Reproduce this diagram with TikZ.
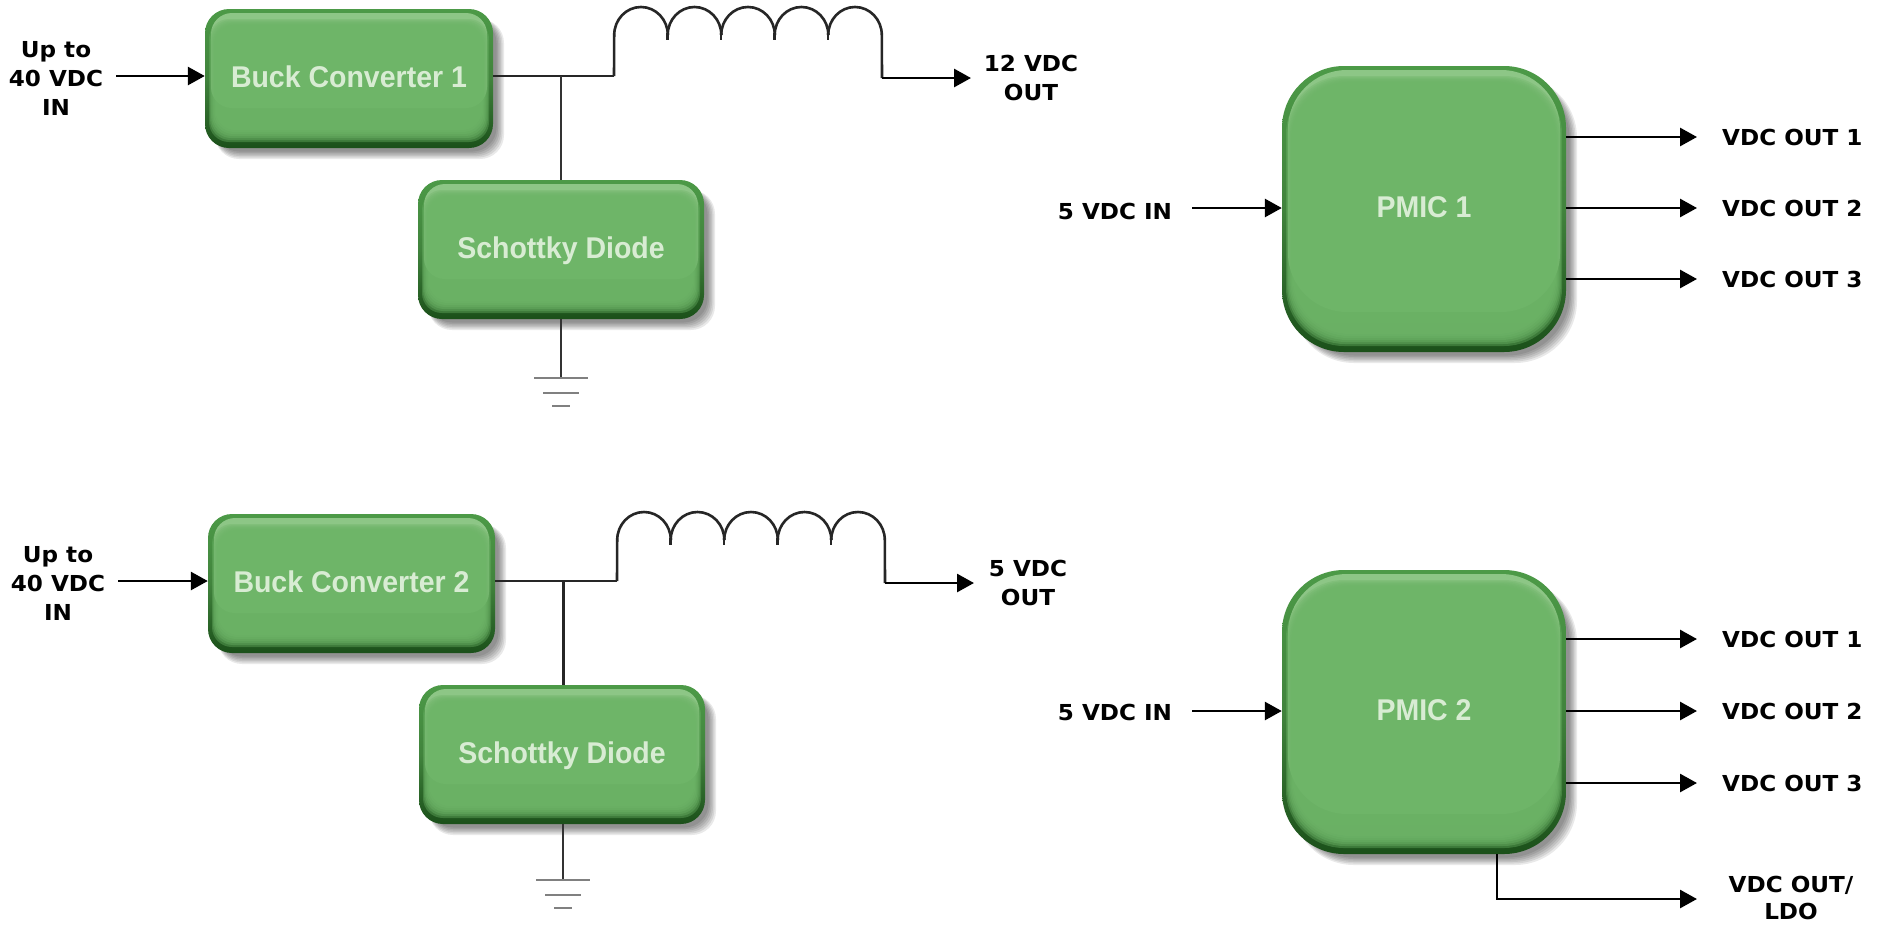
\documentclass[tikz,border=0pt]{standalone}
\usepackage{fontspec}
\setmainfont{Liberation Sans}
\newfontfamily\lblfont{DejaVu Sans}[FakeStretch=1.05]
\newfontfamily\boxfont{Liberation Sans}[FakeStretch=0.95]
\usetikzlibrary{arrows.meta,calc}
\definecolor{gfill}{HTML}{6EB568}
\definecolor{glight}{HTML}{A4D69C}
\definecolor{gmid}{HTML}{4C9A47}
\definecolor{gdark}{HTML}{1B501A}
\definecolor{gtext}{HTML}{D8ECD3}
\tikzset{
  x=1pt,y=-1pt,
  wire/.style={line width=2.6pt,black!85},
  thinwire/.style={line width=2.2pt,black!80},
  arrowwire/.style={line width=2.8pt,black,-{Triangle[length=17pt,width=18pt]}},
  coil/.style={line width=2.6pt,black!85},
  gnd/.style={line width=1.8pt,black!50},
  lbl/.style={font=\lblfont\bfseries\fontsize{22}{29}\selectfont,align=center,inner sep=0pt,text=black},
  boxtxt/.style={font=\boxfont\bfseries\fontsize{30}{34}\selectfont,text=gtext,inner sep=0pt,text height=22pt,text depth=5pt},
}
% #1 name, #2 x0, #3 y0, #4 x1, #5 y1, #6 radius, #7 text
\newcommand{\bevelbox}[7]{%
  \foreach \k in {18,15,12,9,6,3}{%
    \fill[black,opacity=0.085,rounded corners=#6pt] (#2+10,#3+10) rectangle (#4+2+\k/2,#5+2+\k/2);}
  \shade[rounded corners=#6pt,top color=gmid,bottom color=gdark,middle color=gmid!85!black] (#2,#3) rectangle (#4,#5);
  \fill[glight,opacity=0.75,rounded corners=#6pt-3pt] (#2+6,#3+4) rectangle (#4-6,#5-40);
  \foreach \i in {0,1,2,3,4,5,6}{%
    \fill[gfill,opacity=0.38,rounded corners=#6pt-4pt] (#2+4+\i*1.1,#3+10+\i*1.3) rectangle (#4-4-\i*1.2,#5-6-\i*2.0);}
  \node[inner sep=0pt,minimum width=#4-#2,minimum height=#5-#3,boxtxt] (#1) at ({(#2+#4)/2},{(#3+#5)/2}) {#7};
}
\begin{document}
\begin{tikzpicture}
\useasboundingbox (0,0) rectangle (1881,924);
\fill[white] (0,0) rectangle (1881,924);
% boxes
\bevelbox{buckA}{205}{9}{493}{148}{24}{Buck Converter 1}
\bevelbox{diodeA}{418}{180}{704}{319}{24}{Schottky Diode}
\bevelbox{buckB}{208}{514}{495}{653}{24}{Buck Converter 2}
\bevelbox{diodeB}{419}{685}{705}{824}{24}{Schottky Diode}
\bevelbox{pmicA}{1282}{66}{1566}{352}{62}{PMIC 1}
\bevelbox{pmicB}{1282}{570}{1566}{854}{62}{PMIC 2}
% input labels
\node[lbl] (inA) at (56,78) {Up to\\40 VDC\\IN};
\node[lbl] (inB) at (58,583) {Up to\\40 VDC\\IN};
\coordinate (inAs) at (116,76);
\coordinate (inBs) at (118,581);
\draw[arrowwire] (inAs) -- (buckA.west|-inAs);
\draw[arrowwire] (inBs) -- (buckB.west|-inBs);
% top buck
\coordinate (jA) at (561,76);
\coordinate (cA0) at (614,76);
\coordinate (cA1) at (882,78);
\coordinate (gA) at (561,378);
\draw[wire] (buckA.east|-jA) -- (jA) -- (cA0);
\draw[thinwire] (jA) -- (diodeA.north-|jA);
\draw[thinwire] (diodeA.south-|jA) -- (gA);
\draw[gnd] (534,378) -- (588,378) (543,393) -- (579,393) (552,406) -- (570,406);
\foreach \cx in {641,694.5,748,801.5,855}{\draw[coil] (\cx-26.8,35) arc[start angle=180,end angle=0,x radius=26.8,y radius=-28];}
\foreach \sx in {667.6,721.1,774.6,828.1}{\draw[coil] (\sx,33) -- (\sx,40);}
\draw[coil] (cA0) -- (614.2,35);
\draw[coil] (881.8,35) -- (cA1);
\node[lbl] (outA) at (1031,78) {12 VDC\\OUT};
\draw[arrowwire] (cA1) -- (971,78);
% lower buck
\coordinate (jB) at (563,581);
\coordinate (cB0) at (617,581);
\coordinate (cB1) at (885,583);
\coordinate (gB) at (563,880);
\draw[wire] (buckB.east|-jB) -- (jB) -- (cB0);
\draw[line width=3pt,black!85] (jB) -- (diodeB.north-|jB);
\draw[thinwire] (diodeB.south-|jB) -- (gB);
\draw[gnd] (536,880) -- (590,880) (545,895) -- (581,895) (554,908) -- (572,908);
\foreach \cx in {644,697.5,751,804.5,858}{\draw[coil] (\cx-26.8,540) arc[start angle=180,end angle=0,x radius=26.8,y radius=-28];}
\foreach \sx in {670.6,724.1,777.6,831.1}{\draw[coil] (\sx,538) -- (\sx,545);}
\draw[coil] (cB0) -- (617.2,540);
\draw[coil] (884.8,540) -- (cB1);
\node[lbl] (outB) at (1028,583) {5 VDC\\OUT};
\draw[arrowwire] (cB1) -- (974,583);
% PMIC 1
\node[lbl] (pinA) at (1115,211) {5 VDC IN};
\coordinate (pinAs) at (1192,208);
\draw[arrowwire] (pinAs) -- (pmicA.west|-pinAs);
\foreach \n/\y in {1/137,2/208,3/279}{
  \node[lbl,anchor=west] (oA\n) at (1722,\y) {VDC OUT \n};
  \draw[arrowwire] (pmicA.east|-oA\n) -- (1697,\y);
}
% PMIC 2
\node[lbl] (pinB) at (1115,712) {5 VDC IN};
\coordinate (pinBs) at (1192,711);
\draw[arrowwire] (pinBs) -- (pmicB.west|-pinBs);
\foreach \n/\y in {1/639,2/711,3/783}{
  \node[lbl,anchor=west] (oB\n) at (1722,\y) {VDC OUT \n};
  \draw[arrowwire] (pmicB.east|-oB\n) -- (1697,\y);
}
\node[lbl,font=\lblfont\bfseries\fontsize{22}{27}\selectfont] (oB4) at (1791,898) {VDC OUT/\\LDO};
\coordinate (ldo) at (1497,899);
\draw[arrowwire] (pmicB.south-|ldo) -- (ldo) -- (1697,899);
\end{tikzpicture}
\end{document}
